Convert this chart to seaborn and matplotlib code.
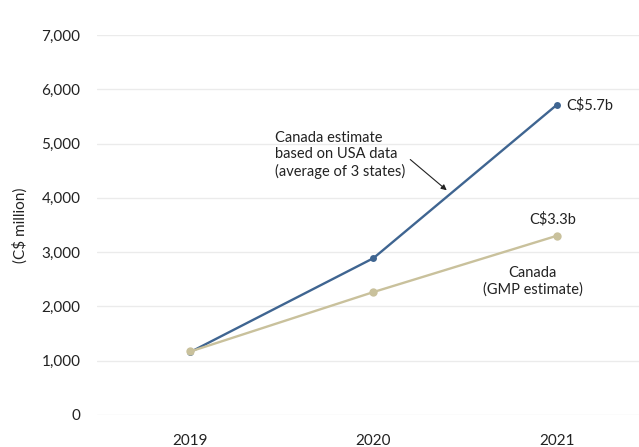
import matplotlib
matplotlib.use("Agg")
import matplotlib.pyplot as plt
import seaborn as sns
import pandas as pd

years = [2019, 2020, 2021]
usa_based = [1160, 2890, 5710]
gmp_estimate = [1170, 2265, 3300]
y_ticks = [0, 1000, 2000, 3000, 4000, 5000, 6000, 7000]
y_tick_labels = ["0", "1,000", "2,000", "3,000", "4,000", "5,000", "6,000", "7,000"]

sns.set_theme(style="white")
plt.rcParams["font.family"] = ["Lato", "DejaVu Sans"]

blue = "#3f6591"
beige = "#c9c19c"

df = pd.DataFrame({
    "year": years * 2,
    "value": usa_based + gmp_estimate,
    "series": ["usa"] * 3 + ["gmp"] * 3,
})

fig = plt.figure(figsize=(6.39, 4.47), dpi=100)
ax = fig.add_axes([97 / 639, 1 - 415 / 447, 1 - 97 / 639, (415 - 35) / 447])

sns.lineplot(data=df[df.series == "usa"], x="year", y="value", ax=ax, color=blue,
             linewidth=1.7, marker="o", markersize=5, markeredgewidth=0, zorder=3)
sns.lineplot(data=df[df.series == "gmp"], x="year", y="value", ax=ax, color=beige,
             linewidth=1.7, marker="o", markersize=6, markeredgewidth=0, zorder=4)

ax.set_xlim(2018.49, 2021.45)
ax.set_ylim(0, 7000)
ax.set_yticks(y_ticks)
ax.set_yticklabels(y_tick_labels)
ax.set_xticks(years)
ax.set_xticklabels([str(y) for y in years])
ax.tick_params(axis="both", labelsize=11, colors="#222222", length=0)
ax.tick_params(axis="x", pad=14)
ax.tick_params(axis="y", pad=12)
ax.set_xlabel("")
ax.set_ylabel("(C$ million)", fontsize=11, color="#222222", labelpad=10)
ax.grid(axis="y", color="#ebebeb", linewidth=1)
ax.grid(axis="x", visible=False)
for s in ax.spines.values():
    s.set_visible(False)
for line in ax.lines:
    line.set_clip_on(False)

ax.text(years[2] + 0.05, usa_based[2], "C$5.7b", fontsize=10.5, color="#222222",
        ha="left", va="center")
ax.text(years[2] - 0.02, gmp_estimate[2] + 300, "C$3.3b", fontsize=10.5, color="#222222",
        ha="center", va="center")
ax.text(2020.87, 2470, "Canada\n(GMP estimate)", fontsize=10.5, color="#222222",
        ha="center", va="center", linespacing=1.2)
ax.annotate("Canada estimate\nbased on USA data\n(average of 3 states)",
            xy=(2020.4, 4140), xytext=(2019.46, 4790),
            fontsize=10.5, color="#222222", ha="left", va="center", linespacing=1.2,
            arrowprops=dict(arrowstyle="-|>", color="#222222", lw=0.8,
                            shrinkA=2, shrinkB=0, mutation_scale=8,
                            relpos=(1.0, 0.5)))

fig.savefig("out.png", dpi=100)
